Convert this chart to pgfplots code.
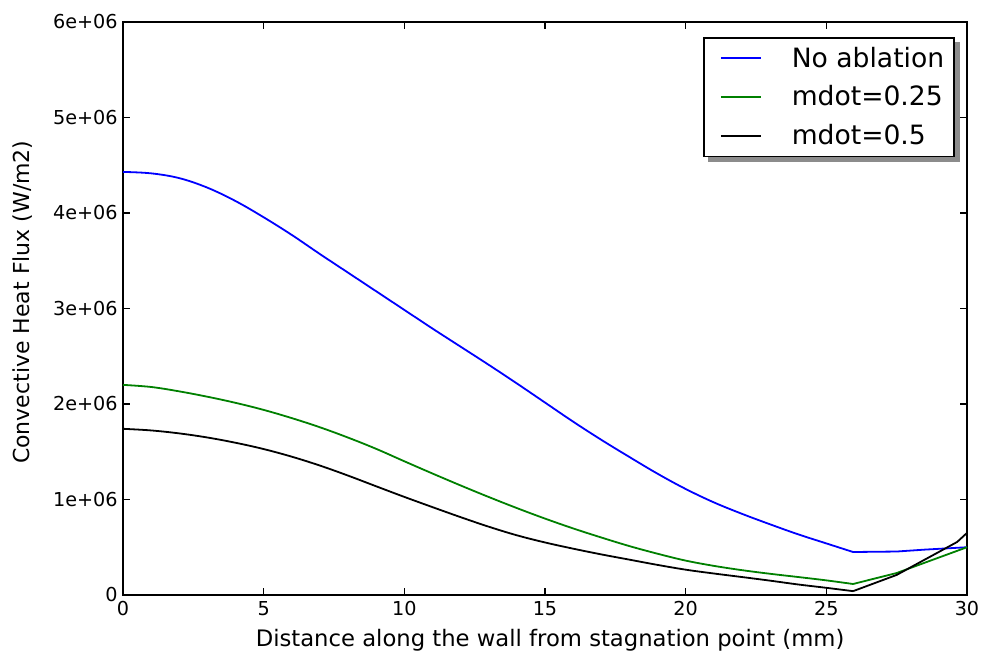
\documentclass[border=0pt]{standalone}
\usepackage{fontspec}
\setmainfont{DejaVu Sans}
\usepackage{pgfplots}
\pgfplotsset{compat=1.18}
\usetikzlibrary{backgrounds}

\definecolor{mplgreen}{rgb}{0,0.5,0}

\begin{document}
\begin{tikzpicture}
\begin{axis}[
    scale only axis, width=422pt, height=286.5pt,
    xmin=0, xmax=30, ymin=0, ymax=6e6,
    xtick={0,5,...,30},
    ytick={0,1e6,2e6,3e6,4e6,5e6,6e6},
    yticklabels={0,1e+06,2e+06,3e+06,4e+06,5e+06,6e+06},
    scaled y ticks=false,
    tick align=inside, major tick length=3.5pt,
    minor tick num=0,
    axis line style={line width=1pt},
    every tick/.style={black, line width=0.6pt},
    /pgf/number format/assume math mode=true,
    ticklabel style={font=\fontsize{9.6}{11}\selectfont},
    xticklabel style={inner sep=0pt, yshift=-3pt},
    yticklabel style={inner sep=0pt, xshift=-2.5pt},
    xlabel={Distance along the wall from stagnation point (mm)},
    ylabel={Convective Heat Flux (W/m2)},
    xlabel style={font=\fontsize{11.35}{13}\selectfont, at={(axis description cs:0.506,-0.0785)}, anchor=center},
    ylabel style={font=\fontsize{11}{13}\selectfont, at={(axis description cs:-0.119,0.511)}, anchor=center},
    legend style={name=leg, at={(rel axis cs:0.9858,0.9738)}, anchor=north east,
        draw=black, line width=0.8pt, fill=white,
        font=\fontsize{13.3}{15}\selectfont,
        inner xsep=3pt, inner ysep=2.5pt,
        row sep=3.75pt, column sep=13pt,
        cells={anchor=west}},
    legend image code/.code={%
        \draw[#1, line width=1pt, shorten <=5pt] (0pt,0pt) -- (25pt,0pt);},
]
% smooth part of each curve, then the straight tail past the minimum
\addplot[blue, line width=0.9pt, smooth, tension=0.6] table {
x y
0 4.43e6
1 4.415e6
2 4.365e6
3 4.265e6
4 4.125e6
5 3.955e6
6 3.77e6
7 3.57e6
8 3.375e6
9 3.18e6
10 2.985e6
11 2.79e6
12 2.60e6
13 2.41e6
14 2.215e6
15 2.015e6
16 1.815e6
17 1.625e6
18 1.445e6
19 1.27e6
20 1.11e6
21 0.97e6
22 0.85e6
23 0.74e6
24 0.635e6
25 0.54e6
25.95 0.45e6
};
\addlegendentry{No ablation}
\addplot[blue, line width=0.9pt, forget plot] table {
x y
25.95 0.45e6
27.5 0.455e6
28.5 0.475e6
30 0.50e6
};
\addplot[mplgreen, line width=0.9pt, smooth, tension=0.6] table {
x y
0 2.20e6
1 2.178e6
2 2.132e6
3 2.076e6
4 2.012e6
5 1.938e6
6 1.852e6
7 1.756e6
8 1.648e6
9 1.53e6
10 1.40e6
11 1.272e6
12 1.147e6
13 1.026e6
14 0.91e6
15 0.80e6
16 0.697e6
17 0.602e6
18 0.512e6
19 0.432e6
20 0.36e6
21 0.305e6
22 0.26e6
23 0.222e6
24 0.188e6
25 0.153e6
25.95 0.115e6
};
\addlegendentry{mdot=0.25}
\addplot[mplgreen, line width=0.9pt, forget plot] table {
x y
25.95 0.115e6
27.5 0.23e6
30 0.50e6
};
\addplot[black, line width=0.9pt, smooth, tension=0.6] table {
x y
0 1.74e6
1 1.723e6
2 1.692e6
3 1.649e6
4 1.594e6
5 1.528e6
6 1.448e6
7 1.355e6
8 1.25e6
9 1.138e6
10 1.027e6
11 0.92e6
12 0.815e6
13 0.715e6
14 0.625e6
15 0.55e6
16 0.485e6
17 0.425e6
18 0.37e6
19 0.315e6
20 0.265e6
21 0.225e6
22 0.188e6
23 0.15e6
24 0.11e6
25 0.075e6
25.95 0.04e6
};
\addlegendentry{mdot=0.5}
\addplot[black, line width=0.9pt, forget plot] table {
x y
25.95 0.04e6
27.5 0.21e6
29.65 0.555e6
30 0.65e6
};
\end{axis}
\begin{scope}[on background layer]
\fill[black!45] ([shift={(2.5pt,-2.5pt)}]leg.south west) rectangle ([shift={(2.5pt,-2.5pt)}]leg.north east);
\end{scope}
\path (current axis.south west) ++(-61.5pt,-29pt) rectangle ([shift={(9.5pt,11pt)}]current axis.north east);
\end{tikzpicture}
\end{document}
